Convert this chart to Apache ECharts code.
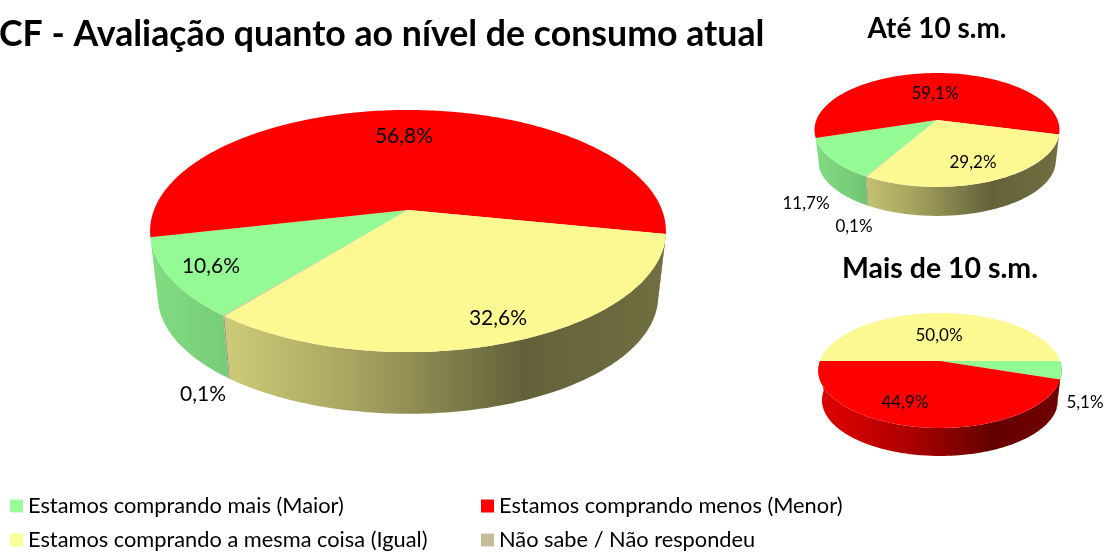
<!DOCTYPE html>
<html>
<head>
<meta charset="utf-8">
<style>html,body{margin:0;padding:0;background:#fff}#chart{width:1107px;height:552px}</style>
<script src="https://cdn.jsdelivr.net/npm/echarts@6/dist/echarts.min.js"></script>
</head>
<body>
<div id="chart"></div>
<script>
var categories = ["Estamos comprando mais (Maior)","Estamos comprando menos (Menor)","Estamos comprando a mesma coisa (Igual)","Não sabe / Não respondeu"];
var pieTitles = ["Até 10 s.m.","Mais de 10 s.m."];
// order of the values: total, ate 10 s.m., mais de 10 s.m.
var maiorValues = [10.6,11.7,5.1];
var menorValues = [56.8,59.1,44.9];
var igualValues = [32.6,29.2,50.0];
var nsValues = [0.1,0.1,0];
var topColors = ["#94fb94","#ff0000","#fcf992","#c4bd97"];
var legendColors = ["#99ff99","#ff0000","#ffff99","#c4bd97"];

var seriesValues = [maiorValues,menorValues,igualValues,nsValues];
var fontName = "Lato";

// cx,cy = where the slices meet, a,b,k = perspective of the disc, start = clockwise from 12h
// wall = part of the rim that shows a side wall
var pies = [
 {cx:408,cy:210,a:254,b:117.4,k:0.1736,depth:66,scale:0.97,start:219,fontSize:21,wall:[100,257],
  labels:[[211,266],[404,136],[498,318],[203,394]]},
 {cx:937,cy:120,a:120.6,b:55.2,k:0.175,depth:31,scale:0.97,start:210,fontSize:17,wall:[104,252],
  labels:[[806,204],[935,94],[973,163],[854,227]]},
 {cx:940,cy:361,a:120,b:55.9,k:0.165,depth:30,scale:0.97,start:90,fontSize:17,wall:[90,270],
  labels:[[1085,403],[905,403],[939,336],[0,0]]}
];

function project(p,deg,down){
 var t = deg*Math.PI/180;
 var u = Math.sin(t);
 var v = -Math.cos(t);
 var w = 1-p.k*v;
 var s = down?p.scale:1;
 return [p.cx+s*p.a*u/w, p.cy+(down?p.depth:0)+s*p.b*v/w];
}

function arcPoints(p,from,to,down){
 var pts = [];
 var n = Math.max(2,Math.ceil(to-from));
 for(var i=0;i<=n;i++){
  pts.push(project(p,from+(to-from)*i/n,down));
 }
 return pts;
}

// side wall colour goes dark from left to right
function shade(color,f){
 var c = echarts.color.parse(color);
 return "rgb("+Math.round(c[0]*f)+","+Math.round(c[1]*f)+","+Math.round(c[2]*f)+")";
}
function wallFill(p,color){
 var w = p.a*1.03;
 return {type:"linear",global:true,x:p.cx-w,y:0,x2:p.cx+w,y2:0,colorStops:[
  {offset:0,color:shade(color,0.88)},
  {offset:0.14,color:shade(color,0.82)},
  {offset:0.4,color:shade(color,0.66)},
  {offset:0.72,color:shade(color,0.39)},
  {offset:1,color:shade(color,0.45)}
 ]};
}

function sliceRange(pieIndex,catIndex){
 var total = 0, before = 0;
 seriesValues.forEach(function(vals,i){
  total += vals[pieIndex];
  if(i<catIndex){ before += vals[pieIndex]; }
 });
 var from = pies[pieIndex].start+before/total*360;
 return [from,from+seriesValues[catIndex][pieIndex]/total*360];
}

function renderSlice(params,api){
 var pieIndex = params.dataIndex;
 var catIndex = params.seriesIndex;
 var value = api.value(0);
 var p = pies[pieIndex];
 var children = [];
 if(value<=0){ return {type:"group",children:children}; }
 var r = sliceRange(pieIndex,catIndex);
 var color = topColors[catIndex];
 // front part of the wall only
 [0,360].forEach(function(shift){
  var lo = Math.max(r[0],p.wall[0]+shift);
  var hi = Math.min(r[1],p.wall[1]+shift);
  if(hi>lo){
   var pts = arcPoints(p,lo,hi,false).concat(arcPoints(p,lo,hi,true).reverse());
   children.push({type:"polygon",z2:1,shape:{points:pts},style:{fill:wallFill(p,color)}});
  }
 });
 children.push({type:"polygon",z2:2,
  shape:{points:[[p.cx,p.cy]].concat(arcPoints(p,r[0],r[1],false))},
  style:{fill:color}});
 var pos = p.labels[catIndex];
 children.push({type:"text",z2:3,x:pos[0],y:pos[1],style:{
  text:value.toFixed(1).replace(".",",")+"%",
  x:0,y:0,align:"center",verticalAlign:"middle",
  font:p.fontSize+"px "+fontName,fill:"#000"}});
 return {type:"group",children:children};
}

var series = categories.map(function(name,i){
 return {
  type:"custom",
  name:name,
  coordinateSystem:"none",
  animation:false,
  silent:true,
  itemStyle:{color:legendColors[i]},
  data:seriesValues[i].map(function(v){return [v];}),
  renderItem:renderSlice
 };
});

var legendText = {fontFamily:fontName,fontSize:21.8,color:"#000"};
var option = {
 animation:false,
 title:[
  {text:"CF - Avaliação quanto ao nível de consumo atual",left:-1,top:16,padding:0,
   textStyle:{fontFamily:fontName,fontSize:35.7,fontWeight:"bold",color:"#000"}},
  {text:pieTitles[0],left:937,top:15,padding:0,textAlign:"center",
   textStyle:{fontFamily:fontName,fontSize:28,fontWeight:"bold",color:"#000"}},
  {text:pieTitles[1],left:940,top:254,padding:0,textAlign:"center",
   textStyle:{fontFamily:fontName,fontSize:28.5,fontWeight:"bold",color:"#000"}}
 ],
 legend:[
  {data:[categories[0],categories[2]],orient:"vertical",left:10,top:495,height:90,padding:0,itemGap:12,
   itemWidth:13,itemHeight:13,icon:"rect",itemStyle:{borderWidth:0},textStyle:legendText},
  {data:[categories[1],categories[3]],orient:"vertical",left:481,top:495,height:90,padding:0,itemGap:12,
   itemWidth:13,itemHeight:13,icon:"rect",itemStyle:{borderWidth:0},textStyle:legendText}
 ],
 series:series
};

var chart = echarts.init(document.getElementById("chart"));
chart.setOption(option);
</script>
</body>
</html>
